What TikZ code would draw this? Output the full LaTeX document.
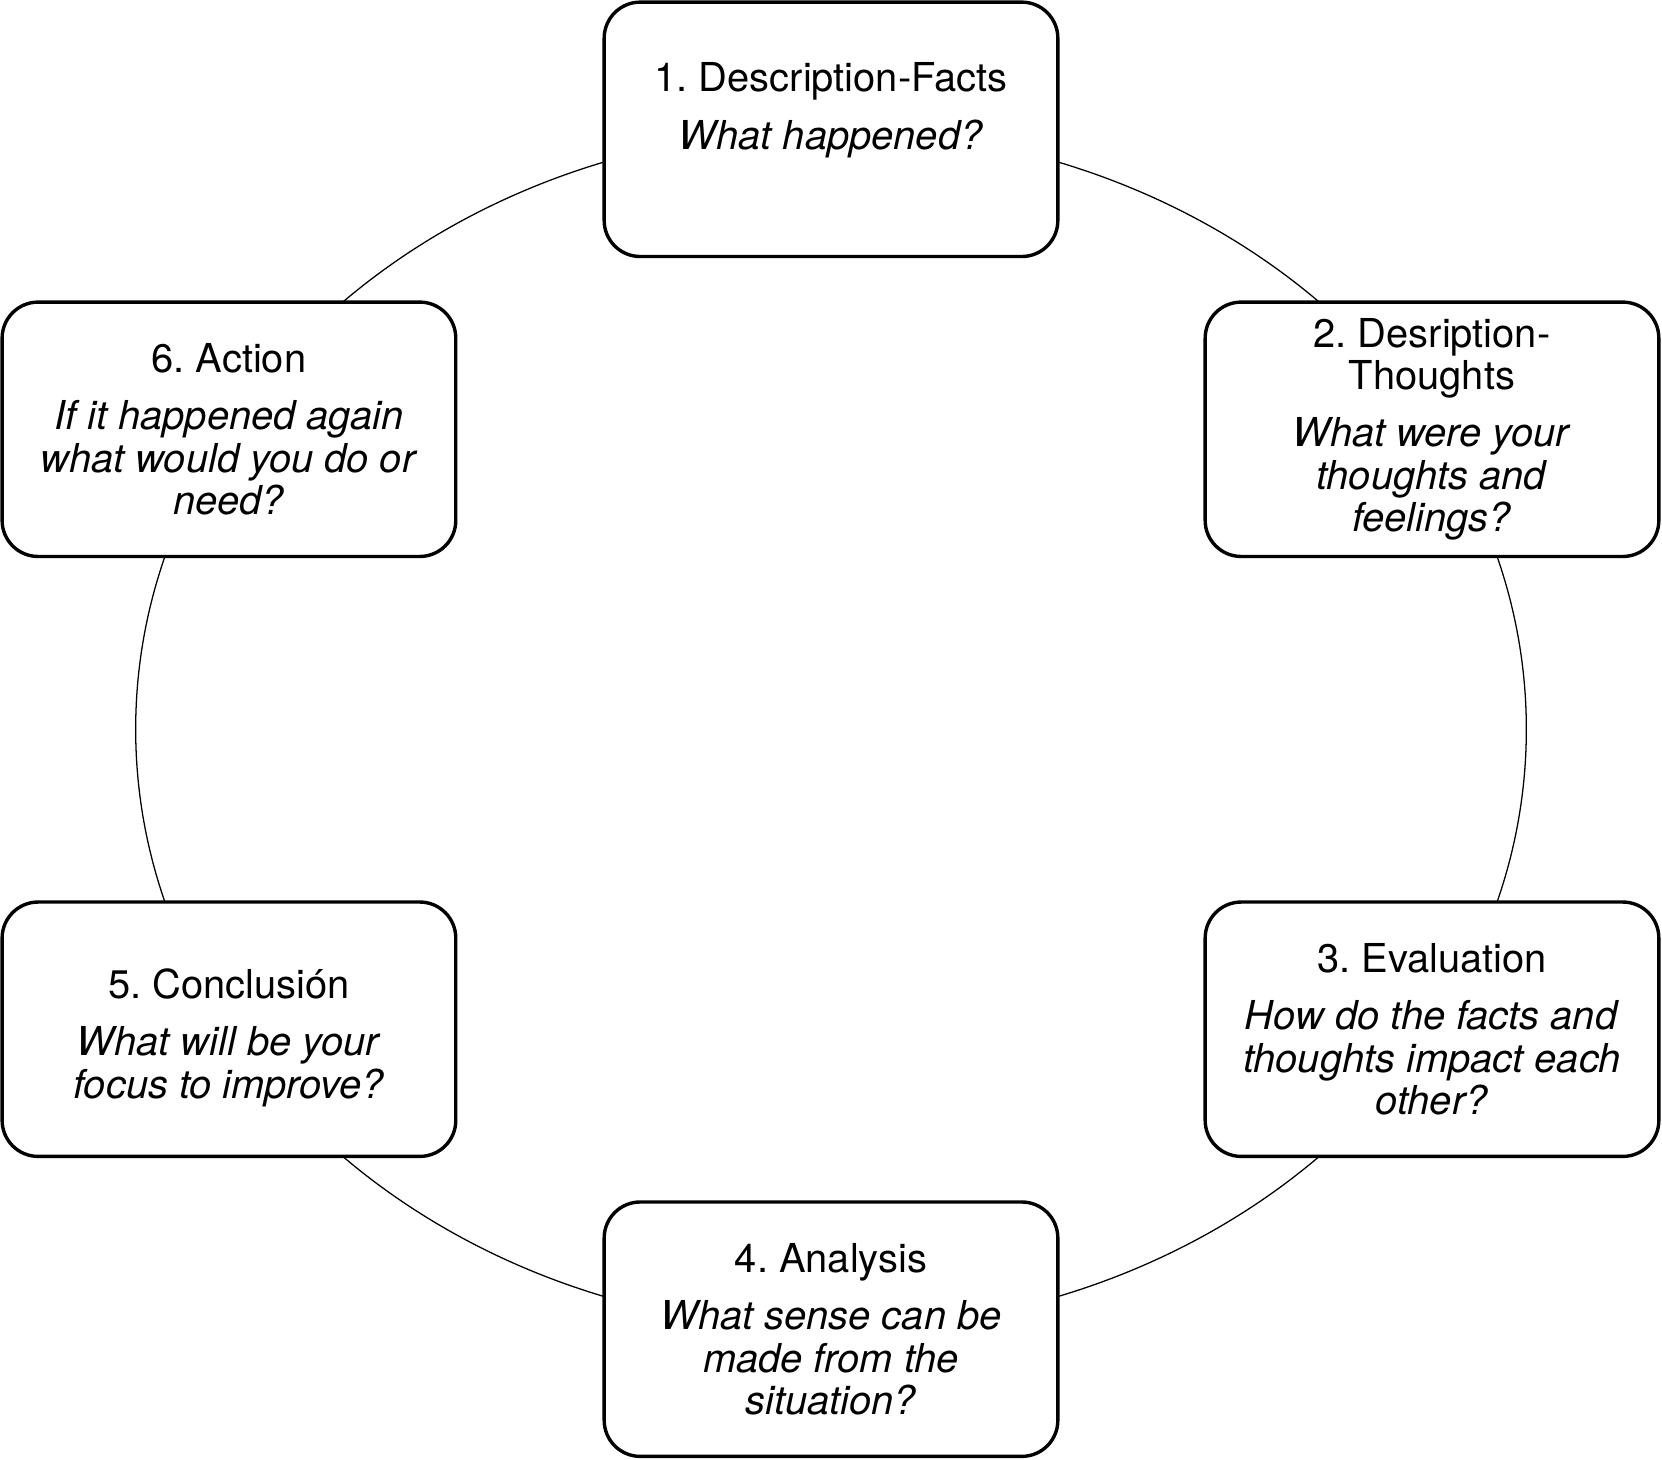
\documentclass[tikz,border=0pt]{standalone}
\usepackage{fontspec}
\setmainfont{TeX Gyre Heros}
\begin{document}
\frenchspacing
\begin{tikzpicture}[x=0.5pt,y=-0.5pt,
  box/.style={draw,line width=1.6pt,rounded corners=17pt,fill=white,minimum width=214pt,minimum height=120pt,align=center,font=\fontsize{18.8}{20}\selectfont,inner sep=4pt},
  txt/.style={align=center,font=\fontsize{18.8}{20}\selectfont,inner sep=0pt}]
\useasboundingbox (0,0) rectangle (1568,1377);
\draw[line width=0.6pt] (784,688) ellipse [x radius=328pt, y radius=283pt];
\node[box] (n1) at (784,122) {};
\node[txt,yshift=-3pt] (t1) at (784,122) {1. Description-Facts\\[7pt]\textit{What happened?}\\[8pt]};
\node[box] (n2) at (1351,405) {2. Desription-\\Thoughts\\[7pt]\textit{What were your}\\\textit{thoughts and}\\\textit{feelings?}};
\node[box] (n3) at (1351,971) {3. Evaluation\\[7pt]\textit{How do the facts and}\\\textit{thoughts impact each}\\\textit{other?}};
\node[box] (n4) at (784,1254) {4. Analysis\\[7pt]\textit{What sense can be}\\\textit{made from the}\\\textit{situation?}};
\node[box] (n5) at (216,971) {};
\node[txt,yshift=-4pt] (t5) at (216,971) {5. Conclusión\\[7pt]\textit{What will be your}\\\textit{focus to improve?}};
\node[box] (n6) at (216,405) {6. Action\\[7pt]\textit{If it happened again}\\\textit{what would you do or}\\\textit{need?}};
\end{tikzpicture}
\end{document}
